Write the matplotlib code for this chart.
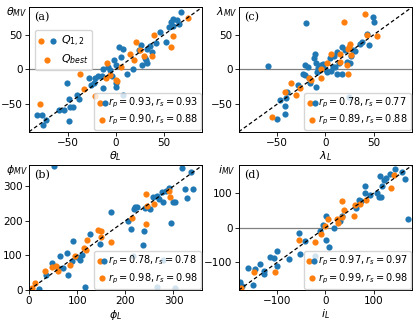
import matplotlib
matplotlib.use("Agg")
import matplotlib.pyplot as plt
from matplotlib.legend_handler import HandlerTuple

# (a) theta
theta_q12_x = [68, 59, 57, 64, 66, 60, 55, 52, 46, 38, 33, 26, 31, 27, 33, 18, 12, 3, 8, -2,
               0, -6, -4, -13, -14, -18, -13, 0, 0, -16, 8, -28, -21, -26, -23, -40, -38, -51, -49, -47,
               -44, -54, -59, -48, -72, -77, -82, -75, 42, 36, 24, 30, 5, -8]
theta_q12_y = [83, 73, 68, 72, 66, 62, 61, 40, 54, 25, 30, 35, 13, 6, 9, 1, -6, 33, 30, 13,
               6, -1, -10, 1, -10, -10, -27, -20, -25, -49, -37, -13, -13, -22, -20, -37, -42, -20, -42, -54,
               -54, -58, -58, -74, -73, -66, -66, -80, 38, 34, 28, 17, 18, 4]
theta_best_x = [75, 60, 57, 40, 38, 29, 21, 15, 19, 5, -9, -10, 0, 1, -37, -33, -21, -79, 25, -6]
theta_best_y = [74, 48, 33, 49, 20, 20, 40, 23, 13, 4, 9, -13, -15, -17, -6, -28, -39, -50, 28, -8]

# (c) lambda
lam_q12_x = [-20, 49, 50, 43, 45, 36, 38, 29, 17, 12, 9, 5, 22, 25, 14, 17, 10, 6, -5, -10,
             -12, -11, -8, -21, -18, -21, -23, -60, -17, -16, -9, 0, 2, 8, 12, -10, -28, -40, -47, -41,
             -42, -42, -50, 24, 31, 27, 20, -3, -6]
lam_q12_y = [67, 75, 68, 51, 36, 37, 39, 28, 32, 25, 20, 16, 11, 10, 9, -6, 4, -2, 6, 9,
             16, 23, 2, 6, 3, -8, -6, 5, -13, -20, -3, 0, -4, 3, -6, -26, -22, -32, -44, -41,
             -53, -65, -71, -40, 27, 20, 28, 8, -1]
lam_best_x = [41, 19, 54, 43, 25, 23.5, 15.6, 27, 15.6, 2, 22, 23.5, -14.5, -5, -5, -26, -36, -31,
              -41.5, -56, 24, -17, 6]
lam_best_y = [80, 69, 48, 49, 37, 30, 23, 21, 11, 9, 6, -7, -15, -13, 1, -27, -20, -37, -33, -68,
              32, -12, 22]

# (b) phi
phi_q12_x = [52, 317, 336, 324, 340, 329, 290, 276, 265, 279, 300, 303, 295, 241, 251, 221, 217, 205,
             211, 238, 236, 215, 279, 265, 303, 171, 147, 126, 105, 92, 64, 71, 78, 81, 47, 36, 21,
             116, 270, 258, 285, 225, 100, 110, 90, 60]
phi_q12_y = [358, 352, 342, 292, 292, 266, 294, 282, 273, 253, 255, 253, 193, 238, 234, 240, 234, 200,
             177, 170, 129, 97, 88, 10, 5, 226, 133, 163, 88, 141, 97, 63, 107, 44, 78, 44, 2,
             10, 262, 270, 285, 240, 95, 100, 85, 65]
phi_best_x = [290, 293, 243, 245, 260, 213, 243, 171, 144, 149, 121, 114, 85, 95, 47, 33, 60, 13, 7,
              150, 118, 55]
phi_best_y = [287, 270, 277, 243, 248, 209, 190, 138, 173, 153, 146, 122, 73, 97, 66, 56, 56, 19, 5,
              170, 115, 70]

# (d) inclination
inc_q12_x = [145, 159, 166, 135, 125, 121, 118, 114, 111, 83, 83, 93, 73, 64, 172, 35, 17, 1, -54, -42,
             -21, -52, -76, -100, -107, -100, -135, -147, -128, -128, -151, -177, -173, 1, 7, 108, 115,
             70, 30, -5, -12, -160, -115, -178]
inc_q12_y = [169, 162, 140, 155, 143, 138, 121, 148, 89, 121, 100, 95, 76, 57, 26, 35, 0, 33, -16, -38,
             -81, -77, -89, -67, -88, -110, -105, -119, -124, -133, -165, -157, -167, -36, -57, 100, 90,
             80, 20, 8, -10, -115, -85, -172]
inc_best_x = [142, 137, 85, 71, 62, 59, 35, 38, 35, 24, 26, 6, -10, -55, -22, -104, -149, -175, 0]
inc_best_y = [152, 114, 79, 69, 65, 35, 76, 50, 30, 24, 14, 24, -19, -35, -40, -127, -129, -175, 5]

panels = [
    ("a", r"\theta", theta_q12_x, theta_q12_y, theta_best_x, theta_best_y, 90, True,
     ("0.93", "0.93", "0.90", "0.88")),
    ("c", r"\lambda", lam_q12_x, lam_q12_y, lam_best_x, lam_best_y, 90, True,
     ("0.78", "0.77", "0.89", "0.88")),
    ("b", r"\phi", phi_q12_x, phi_q12_y, phi_best_x, phi_best_y, 360, False,
     ("0.78", "0.78", "0.98", "0.98")),
    ("d", r"i", inc_q12_x, inc_q12_y, inc_best_x, inc_best_y, 180, True,
     ("0.97", "0.97", "0.99", "0.98")),
]

fig, axes = plt.subplots(2, 2, figsize=(4.15, 3.23), dpi=100)
fig.subplots_adjust(left=0.07, right=0.993, top=0.978, bottom=0.102, wspace=0.21, hspace=0.27)

blue = "#1f77b4"
orange = "#ff7f0e"

for ax, (tag, sym, qx, qy, bx, by, lim, sym_axis, r) in zip(axes.flat, panels):
    lo = -lim if sym_axis else 0
    if sym_axis:
        ax.axhline(0, color="grey", lw=0.9, zorder=1)
    ax.plot([lo, lim], [lo, lim], "k--", lw=0.9, dashes=(3, 2), zorder=3)
    hb = ax.scatter(qx, qy, s=20, color=blue, zorder=2, linewidths=0)
    ho = ax.scatter(bx, by, s=20, color=orange, zorder=2, linewidths=0)
    ax.set_xlim(lo, lim)
    ax.set_ylim(lo, lim)
    ax.tick_params(labelsize=7.5, length=3, width=0.6, pad=1.5)
    for sp in ax.spines.values():
        sp.set_linewidth(0.7)
    ax.set_xlabel(f"${sym}_L$", fontsize=8, labelpad=1)
    ax.set_ylabel(f"${sym}_{{MV}}$", fontsize=8, rotation=0, ha="center", va="center")
    ax.yaxis.set_label_coords(-0.07, 0.96)
    ax.text(0.03, 0.96, f"({tag})", transform=ax.transAxes, fontsize=8, family="DejaVu Serif",
            ha="left", va="top")

    if tag == "a":
        leg1 = ax.legend([(ho, hb), ho], [r"$Q_{1,2}$", r"$Q_{best}$"],
                         handler_map={tuple: HandlerTuple(ndivide=None, pad=0.6)},
                         loc="upper left", bbox_to_anchor=(0.0, 0.86), fontsize=8,
                         handlelength=1.6, handletextpad=0.4, borderpad=0.35, labelspacing=0.3)
        ax.add_artist(leg1)

    ax.legend([(ho, hb), ho],
              [rf"$r_p = {r[0]}, r_s = {r[1]}$", rf"$r_p = {r[2]}, r_s = {r[3]}$"],
              handler_map={tuple: HandlerTuple(ndivide=None, pad=0.0)},
              loc="lower right", fontsize=7, handlelength=1.0, handletextpad=0.1,
              borderaxespad=0.15, borderpad=0.3, labelspacing=0.3)

fig.savefig("out.png", dpi=100)
